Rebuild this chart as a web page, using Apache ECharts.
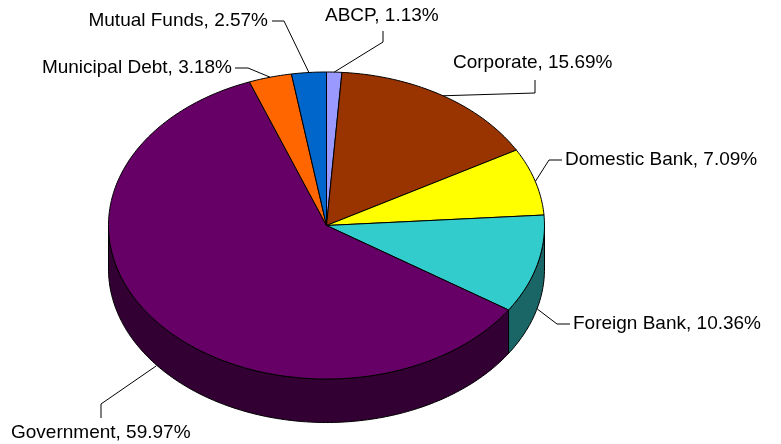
<!DOCTYPE html>
<html>
<head>
<meta charset="utf-8">
<script src="https://cdn.jsdelivr.net/npm/echarts@6/dist/echarts.min.js"></script>
<style>html,body{margin:0;padding:0;background:#fff}#main{width:781px;height:444px}</style>
</head>
<body>
<div id="main"></div>
<script>
// slices, clockwise from 12 o'clock
var categories = ['ABCP', 'Corporate', 'Domestic Bank', 'Foreign Bank', 'Government', 'Municipal Debt', 'Mutual Funds'];
var shares = [1.13, 15.69, 7.09, 10.36, 59.97, 3.18, 2.57];

var topColors = ['#9999ff', '#993300', '#ffff00', '#33cccc', '#660066', '#ff6600', '#0066cc'];
var sideColors = ['#4d4d80', '#4d1a00', '#808000', '#1a6666', '#330033', '#803300', '#003366'];

// label placement (text anchor + elbow of leader line)
var labelLayout = [
    { x: 325, y: 16, align: 'left', line: [[383, 31], [383, 42]] },
    { x: 453, y: 63, align: 'left', line: [[535, 80], [535, 93]] },
    { x: 565, y: 160, align: 'left', line: [[562, 160], [549, 160]] },
    { x: 573, y: 324, align: 'left', line: [[570, 324], [557, 324]] },
    { x: 11, y: 433, align: 'left', line: [[101, 418], [101, 404]] },
    { x: 232, y: 68, align: 'right', line: [[235, 68], [248, 68]] },
    { x: 268, y: 21, align: 'right', line: [[272, 21], [284, 21]] }
];

// ellipse geometry
var cx = 326.5, cy = 225.5, rx = 218, ry = 153.5, depth = 43.5;

var total = 0;
shares.forEach(function (v) { total += v; });
var startAng = [], endAng = [];
var acc = 0;
shares.forEach(function (v) {
    startAng.push(acc / total * 360);
    acc += v;
    endAng.push(acc / total * 360);
});

var pt = function (deg, dy) {
    var r = deg * Math.PI / 180;
    return [cx + rx * Math.sin(r), cy - ry * Math.cos(r) + (dy || 0)];
};

var arc = function (a, b, dy) {
    var n = Math.max(2, Math.ceil(Math.abs(b - a)));
    var pts = [];
    for (var i = 0; i <= n; i++) {
        pts.push(pt(a + (b - a) * i / n, dy));
    }
    return pts;
};

var sideItem = function (params, api) {
    var i = params.dataIndex;
    var a = Math.max(startAng[i], 90), b = Math.min(endAng[i], 270);
    if (a >= b) return { type: 'group', children: [] };
    return {
        type: 'polygon',
        shape: { points: arc(a, b, 0).concat(arc(b, a, depth)) },
        style: { fill: sideColors[i], stroke: '#000', lineWidth: 1 }
    };
};

var topItem = function (params, api) {
    var i = params.dataIndex;
    return {
        type: 'polygon',
        shape: { points: [[cx, cy]].concat(arc(startAng[i], endAng[i], 0)) },
        style: { fill: topColors[i], stroke: '#000', lineWidth: 1 }
    };
};

var labelItem = function (params, api) {
    var i = params.dataIndex;
    var lay = labelLayout[i];
    var mid = (startAng[i] + endAng[i]) / 2;
    var front = Math.cos(mid * Math.PI / 180) < 0;
    var anchor = pt(mid, front ? depth + 1 : 0);
    return {
        type: 'group',
        children: [{
            type: 'polyline',
            shape: { points: lay.line.concat([anchor]) },
            style: { stroke: '#000', lineWidth: 1, fill: null }
        }, {
            type: 'text',
            style: {
                text: categories[i] + ', ' + shares[i].toFixed(2) + '%',
                x: lay.x, y: lay.y,
                align: lay.align, verticalAlign: 'middle',
                fill: '#000',
                font: '19px "Liberation Sans", Arial, sans-serif'
            }
        }]
    };
};

var chart = echarts.init(document.getElementById('main'));
chart.setOption({
    animation: false,
    backgroundColor: '#fff',
    series: [
        { type: 'custom', coordinateSystem: 'none', z: 1, data: shares, renderItem: sideItem },
        { type: 'custom', coordinateSystem: 'none', z: 2, data: shares, renderItem: topItem },
        { type: 'custom', coordinateSystem: 'none', z: 3, data: shares, renderItem: labelItem }
    ]
});
</script>
</body>
</html>
